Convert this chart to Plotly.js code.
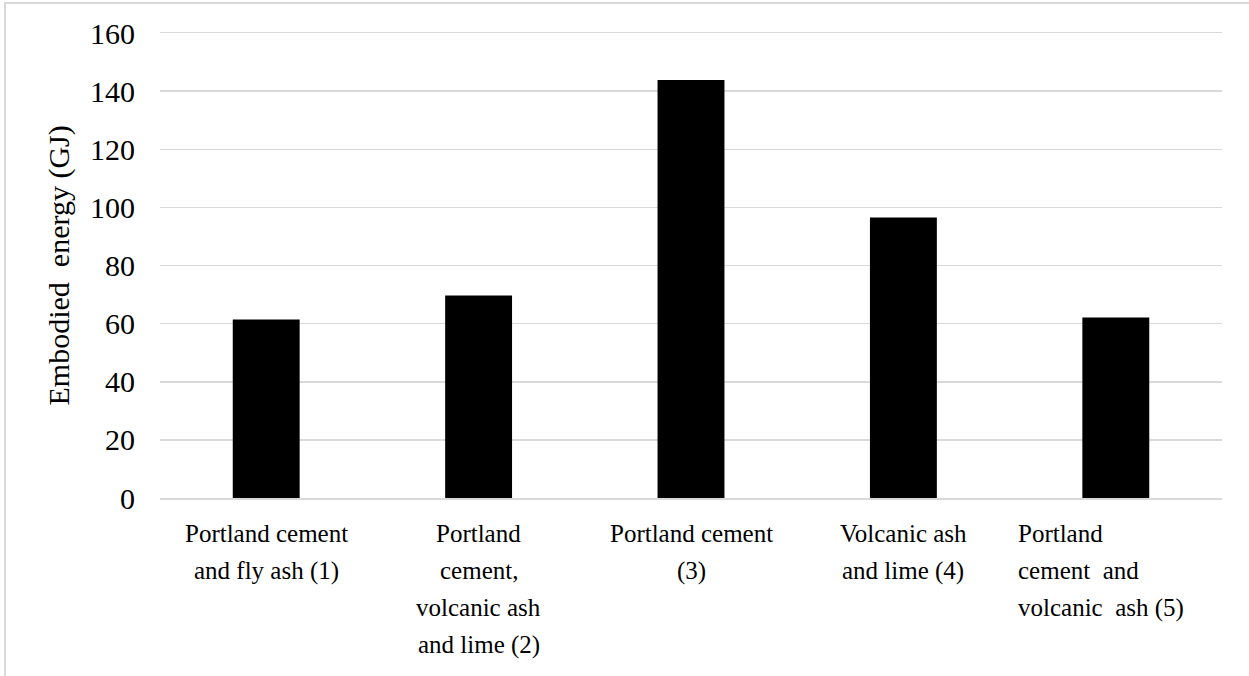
<!DOCTYPE html>
<html>
<head>
<meta charset="utf-8">
<script src="https://cdn.plot.ly/plotly-3.0.1.min.js"></script>
<style>
  html, body { margin: 0; padding: 0; background: #fff; }
  #wrap { position: relative; width: 1249px; height: 676px; overflow: hidden; }
  #chart { position: absolute; left: 0; top: 0; width: 1249px; height: 676px; }
  #frame { position: absolute; left: 4px; top: 2px; width: 1400px; height: 800px;
           border-left: 2px solid #d9d9d9; border-top: 2px solid #d9d9d9;
           pointer-events: none; z-index: 5; }
</style>
</head>
<body>
<div id="wrap">
  <div id="chart"></div>
  <div id="frame"></div>
</div>
<script>
// ---- data ----
const categoryLabels = [
  "Portland cement<br>and fly ash (1)",
  "Portland<br>cement,<br>volcanic ash<br>and lime (2)",
  "Portland cement<br>(3)",
  "Volcanic ash<br>and lime (4)",
  "Portland<br>cement  and<br>volcanic  ash (5)"
];
const embodiedEnergy = [61.4, 69.7, 143.8, 96.5, 62.1];
const yTickValues = [0, 20, 40, 60, 80, 100, 120, 140, 160];
const yAxisTitle = "Embodied  energy (GJ)";

// ---- build ----
const serif = "Liberation Serif";
const xKeys = categoryLabels.map(s => s.replace(/<br>/g, " "));
const leftAligned = [false, false, false, false, true];

const trace = {
  type: "bar",
  x: xKeys,
  y: embodiedEnergy,
  marker: { color: "#000000", line: { width: 0 } },
  hoverinfo: "skip"
};

const annotations = [];
categoryLabels.forEach((lab, i) => {
  const lines = lab.split("<br>");
  lines.forEach((ln, j) => {
    annotations.push({
      xref: "x", yref: "paper",
      x: xKeys[i], y: 0,
      xanchor: leftAligned[i] ? "left" : "center",
      xshift: leftAligned[i] ? -100 : 0,
      yanchor: "top",
      yshift: -20 - j * 37,
      text: ln.replace(/  /g, " &nbsp;"),
      showarrow: false,
      font: { family: serif, size: 25, color: "#000" }
    });
  });
});
annotations.push({
  xref: "paper", yref: "paper",
  x: 0, y: 0.5, xanchor: "center", yanchor: "middle",
  xshift: -102,
  textangle: -90,
  text: yAxisTitle.replace(/  /g, " &nbsp;"),
  showarrow: false,
  font: { family: serif, size: 30, color: "#000" }
});

const layout = {
  width: 1249, height: 676,
  margin: { l: 160, r: 27, t: 33, b: 178, pad: 0 },
  paper_bgcolor: "#ffffff",
  plot_bgcolor: "#ffffff",
  font: { family: serif, color: "#000" },
  showlegend: false,
  bargap: 0.685,
  xaxis: {
    type: "category",
    showticklabels: false,
    showgrid: false,
    zeroline: false,
    showline: true,
    mirror: true,
    linecolor: "#d9d9d9",
    linewidth: 1.5,
    ticks: ""
  },
  yaxis: {
    range: [0, 160],
    tickvals: yTickValues,
    ticktext: yTickValues.map(String),
    showgrid: true,
    gridcolor: "#d9d9d9",
    gridwidth: 1.5,
    zeroline: false,
    showline: false,
    ticks: "",
    ticklabelstandoff: 24,
    tickfont: { family: serif, size: 30, color: "#000" }
  },
  annotations: annotations
};

Plotly.newPlot("chart", [trace], layout, { displayModeBar: false, staticPlot: true });
</script>
</body>
</html>
